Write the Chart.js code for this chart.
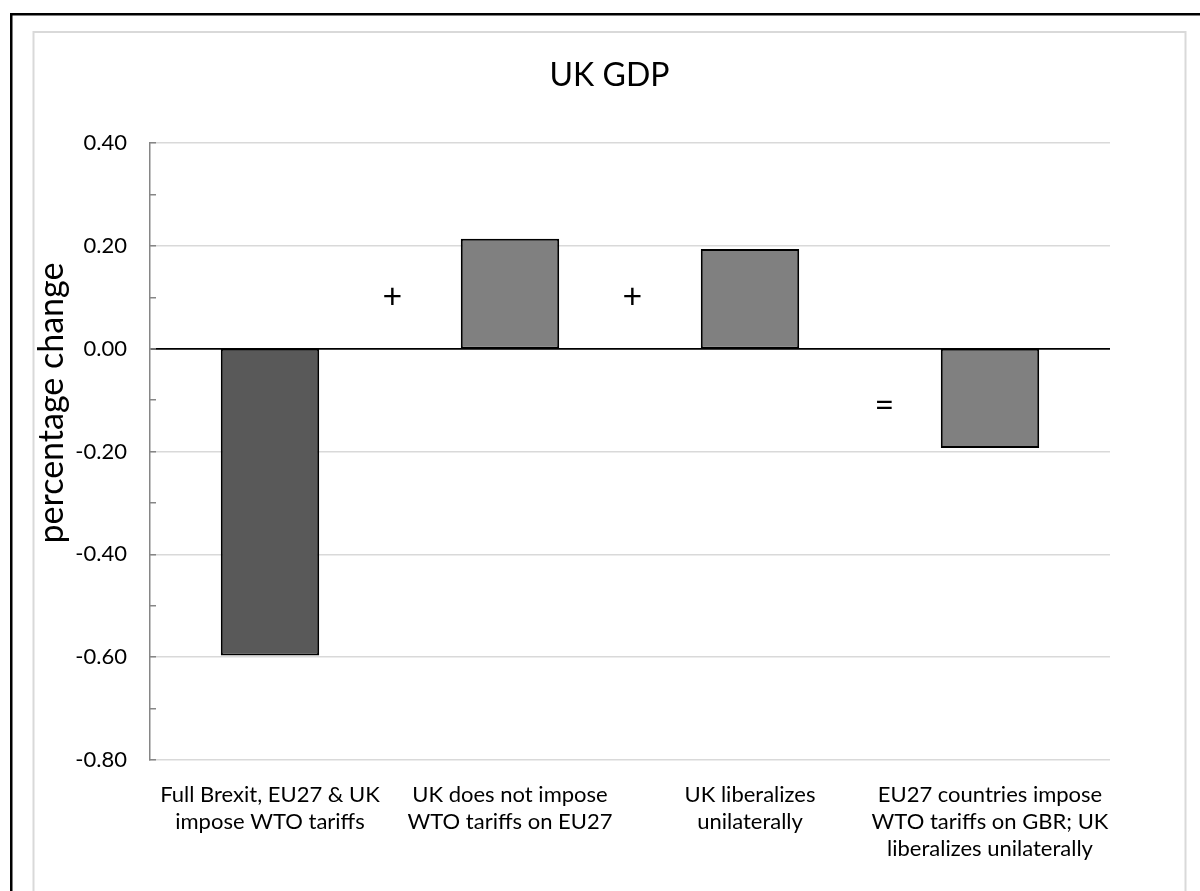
<!DOCTYPE html>
<html>
<head>
<meta charset="utf-8">
<title>UK GDP</title>
<script src="https://cdn.jsdelivr.net/npm/chart.js@4/dist/chart.umd.min.js"></script>
<style>
  html, body { margin: 0; padding: 0; background: #ffffff; }
  #chart { display: block; }
</style>
</head>
<body>
<canvas id="chart" width="1200" height="891"></canvas>
<script>
// Scenario labels (each entry is split over several lines)
const categories = [
  ['Full Brexit, EU27 & UK', 'impose WTO tariffs'],
  ['UK does not impose', 'WTO tariffs on EU27'],
  ['UK liberalizes', 'unilaterally'],
  ['EU27 countries impose', 'WTO tariffs on GBR; UK', 'liberalizes unilaterally']
];

// Percentage change in UK GDP for each scenario
const gdpChange = [-0.597, 0.214, 0.194, -0.193];

// Bar fills: the full-Brexit bar is darker than the decomposition bars
const barColors = ['#595959', '#808080', '#808080', '#808080'];

// Y axis range and step (labels every 0.20, minor marks every 0.10)
const yMin = -0.8;
const yMax = 0.4;
const yStep = 0.1;

// Operators between the bars: symbol, category position, value position
const opSymbols = ['+', '+', '='];
const opCategoryPos = [0.51, 1.51, 2.56];
const opValuePos = [0.10, 0.10, -0.111];

const chartTitle = 'UK GDP';
const yAxisTitle = 'percentage change';

const FONT = 'Lato, "Open Sans", sans-serif';

// Frame lines, the chart title, the axis title and the operator symbols
const decorations = {
  id: 'decorations',
  beforeDraw(chart) {
    const ctx = chart.ctx;
    ctx.save();
    ctx.fillStyle = '#ffffff';
    ctx.fillRect(0, 0, chart.width, chart.height);
    // outer black frame
    ctx.strokeStyle = '#000000';
    ctx.lineWidth = 2.5;
    ctx.strokeRect(11.25, 14.25, 1260, 960);
    // inner light frame of the chart area
    ctx.strokeStyle = '#d9d9d9';
    ctx.lineWidth = 2;
    ctx.strokeRect(33.5, 32, 1152, 940);
    // chart title, centred in the inner frame
    ctx.fillStyle = '#000000';
    ctx.font = '32px ' + FONT;
    ctx.textAlign = 'center';
    ctx.textBaseline = 'middle';
    ctx.fillText(chartTitle, 609.5, 76);
    ctx.restore();
  },
  afterDraw(chart) {
    const ctx = chart.ctx;
    const xs = chart.scales.x;
    const ys = chart.scales.y;
    ctx.save();
    ctx.fillStyle = '#000000';
    ctx.font = '34px ' + FONT;
    ctx.textAlign = 'center';
    ctx.textBaseline = 'middle';
    opSymbols.forEach((s, i) => {
      ctx.fillText(s, xs.getPixelForValue(opCategoryPos[i]), ys.getPixelForValue(opValuePos[i]));
    });
    // vertical axis title
    ctx.translate(52, 403);
    ctx.rotate(-Math.PI / 2);
    ctx.font = '34px ' + FONT;
    ctx.fillText(yAxisTitle, 0, 0);
    ctx.restore();
  }
};

const isMajor = (v) => Math.abs(Math.round(v * 10)) % 2 === 0;

new Chart(document.getElementById('chart'), {
  type: 'bar',
  data: {
    labels: categories,
    datasets: [{
      data: gdpChange,
      backgroundColor: barColors,
      borderColor: '#000000',
      borderWidth: 2,
      borderSkipped: false,
      categoryPercentage: 1,
      barPercentage: 0.41
    }]
  },
  options: {
    responsive: false,
    animation: false,
    devicePixelRatio: 1,
    layout: { padding: { left: 34, right: 90, top: 143, bottom: 0 } },
    plugins: {
      legend: { display: false },
      tooltip: { enabled: false },
      title: { display: false }
    },
    scales: {
      x: {
        grid: { display: false, drawTicks: false },
        border: { display: false },
        ticks: {
          color: '#000000',
          font: { family: FONT, size: 22, lineHeight: 1.227 },
          padding: 21.5,
          maxRotation: 0,
          autoSkip: false
        },
        afterFit(scale) { scale.height = 131; }
      },
      y: {
        min: yMin,
        max: yMax,
        border: { display: true, color: '#868686', width: 1.5 },
        grid: {
          drawTicks: true,
          tickLength: -6,
          tickColor: '#868686',
          tickWidth: 1.5,
          color(ctx) {
            const v = ctx.tick ? ctx.tick.value : 1;
            if (Math.abs(v) < 1e-9) return '#000000';
            return isMajor(v) ? '#d9d9d9' : 'rgba(0,0,0,0)';
          },
          lineWidth(ctx) {
            const v = ctx.tick ? ctx.tick.value : 1;
            return Math.abs(v) < 1e-9 ? 1.8 : 1.5;
          }
        },
        ticks: {
          stepSize: yStep,
          autoSkip: false,
          color: '#000000',
          font: { family: FONT, size: 22 },
          padding: 29,
          callback(value) {
            return isMajor(value) ? Number(value).toFixed(2) : '';
          }
        },
        afterFit(scale) { scale.width = 116; }
      }
    }
  },
  plugins: [decorations]
});
</script>
</body>
</html>
